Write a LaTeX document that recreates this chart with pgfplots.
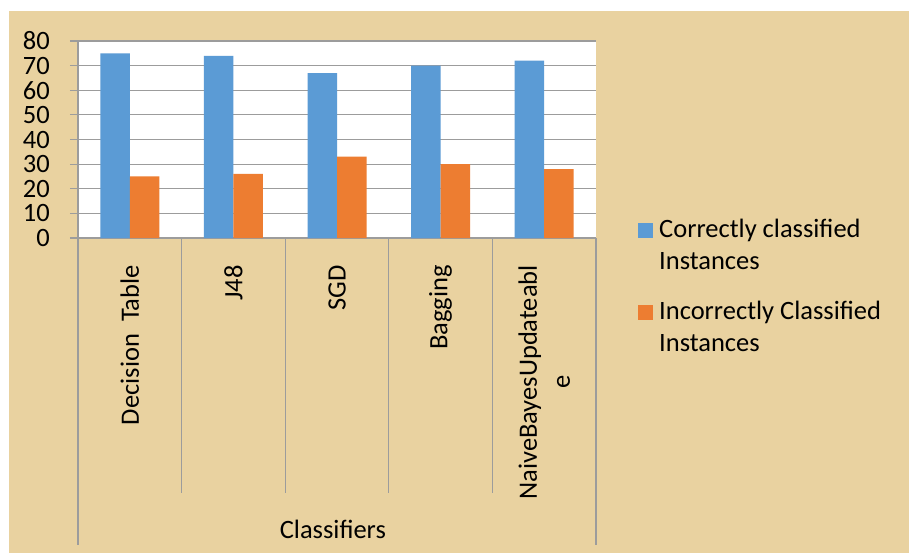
\documentclass[border=0pt]{standalone}
\usepackage{pgfplots}
\pgfplotsset{compat=1.18}
\usepackage{fontspec}
\setmainfont{Carlito}

\definecolor{cblue}{HTML}{5B9BD5}
\definecolor{corange}{HTML}{ED7D31}
\definecolor{paper}{HTML}{E9D2A0}
\definecolor{gridgray}{HTML}{9C9C9C}

\begin{document}
\begin{tikzpicture}
% page and parchment background
\fill[white] (0,0) rectangle (909pt,-553pt);
\fill[paper] (9pt,-11pt) rectangle (909pt,-553pt);
\begin{axis}[
    at={(78pt,-238pt)}, anchor=south west,
    scale only axis, width=518pt, height=197pt,
    xmin=-0.5, xmax=4.5,
    ymin=0, ymax=80,
    clip=false,
    axis background/.style={fill=white},
    axis x line*=bottom, axis y line*=left,
    axis line style={gridgray, line width=1.2pt, -},
    ybar=0pt, bar width=29.5pt,
    xtick={0,...,4},
    xticklabels={{Decision\ \ Table}, J48, SGD, Bagging, {NaiveBayesUpdateabl\\e}},
    xtick style={draw=none},
    ytick={0,10,...,80},
    ytick style={gridgray, line width=1.2pt},
    tick align=outside, major tick length=8pt,
    ymajorgrids=true,
    grid style={gridgray, line width=1.2pt},
    tick label style={font=\fontsize{26.5}{33}\selectfont},
    /pgf/number format/assume math mode=true,
    yticklabel style={anchor=east, inner sep=0pt, xshift=-20pt},
    xticklabel style={rotate=90, anchor=east, align=center, inner sep=0pt},
    xticklabel shift=19pt,
    xlabel={Classifiers},
    x label style={at={(axis description cs:0.492,-1.523)}, anchor=base,
        font=\fontsize{26.5}{33}\selectfont},
    legend style={at={(axis description cs:1.081,0.105)}, anchor=north west,
        draw=none, fill=none, inner sep=0pt, row sep=26pt, column sep=4pt,
        font=\fontsize{26.5}{32}\selectfont,
        cells={align=left, inner sep=0pt}},
    legend cell align=left,
    legend image code/.code={\fill[#1] (0pt,7pt) rectangle (15pt,22pt);},
]
\addplot[fill=cblue, draw=none] coordinates {(0,75) (1,74) (2,67) (3,70) (4,72)};
\addplot[fill=corange, draw=none] coordinates {(0,25) (1,26) (2,33) (3,30) (4,28)};
\legend{{Correctly classified\\Instances}, {Incorrectly Classified\\Instances}}
% category separators of the two-level axis
\draw[gridgray, line width=1.2pt] (axis cs:-0.5,0) -- ++(0pt,-307pt);
\draw[gridgray, line width=1.2pt] (axis cs:0.5,0) -- ++(0pt,-255pt);
\draw[gridgray, line width=1.2pt] (axis cs:1.5,0) -- ++(0pt,-255pt);
\draw[gridgray, line width=1.2pt] (axis cs:2.5,0) -- ++(0pt,-255pt);
\draw[gridgray, line width=1.2pt] (axis cs:3.5,0) -- ++(0pt,-255pt);
\draw[gridgray, line width=1.2pt] (axis cs:4.5,0) -- ++(0pt,-307pt);
\end{axis}
\end{tikzpicture}
\end{document}
